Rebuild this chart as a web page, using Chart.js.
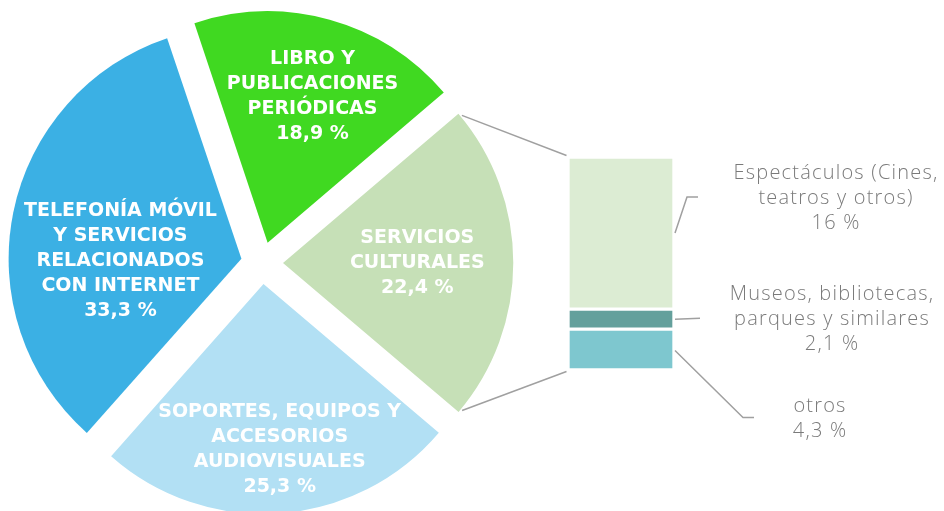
<!DOCTYPE html>
<html>
<head>
<meta charset="utf-8">
<script src="https://cdn.jsdelivr.net/npm/chart.js@4.4.0/dist/chart.umd.min.js"></script>
<style>
  html, body { margin: 0; padding: 0; background: #fff; overflow: hidden; }
  .wrap { position: relative; width: 944px; height: 511px; }
  .wrap canvas { position: absolute; left: 0; top: 0; }
</style>
</head>
<body>
<div class="wrap">
  <canvas id="pie" width="944" height="511"></canvas>
  <canvas id="detail" width="944" height="511"></canvas>
</div>
<script>
// main split (clockwise from the left slice)
const pieLabels = [
  ['TELEFONÍA MÓVIL', 'Y SERVICIOS', 'RELACIONADOS', 'CON INTERNET'],
  ['LIBRO Y', 'PUBLICACIONES', 'PERIÓDICAS'],
  ['SERVICIOS', 'CULTURALES'],
  ['SOPORTES, EQUIPOS Y', 'ACCESORIOS', 'AUDIOVISUALES']
];
const pieValues = [33.3, 18.9, 22.4, 25.3];
const pieColors = ['#3bb0e4', '#40d921', '#c6e0b7', '#b2e0f4'];

// breakdown of SERVICIOS CULTURALES (top to bottom)
const subLabels = [
  ['Espectáculos (Cines,', 'teatros y otros)'],
  ['Museos, bibliotecas,', 'parques y similares'],
  ['otros']
];
const subValues = [16, 2.1, 4.3];
const subColors = ['#dcecd3', '#64a09c', '#7ec7cf'];

const fmt = v => String(v).replace('.', ',') + ' %';

// label spots: [angle from top in degrees, distance from pie centre]
const labelSpots = [[270.8, 141.6], [16.9, 173.8], [89.9, 155.3], [174.6, 187.8]];

const pieLabelPlugin = {
  id: 'pieLabels',
  afterDatasetsDraw(chart) {
    const ctx = chart.ctx;
    const arcs = chart.getDatasetMeta(0).data;
    ctx.save();
    ctx.fillStyle = '#fff';
    ctx.font = 'bold 19px "DejaVu Sans", sans-serif';
    ctx.textAlign = 'center';
    ctx.textBaseline = 'middle';
    arcs.forEach((arc, i) => {
      const [deg, r] = labelSpots[i];
      const a = (deg - 90) * Math.PI / 180;
      const cx = arc.x + r * Math.cos(a);
      const cy = arc.y + r * Math.sin(a);
      const lines = [...pieLabels[i], fmt(pieValues[i])];
      lines.forEach((t, k) => ctx.fillText(t, cx, cy + (k - (lines.length - 1) / 2) * 25));
    });
    ctx.restore();
  }
};

const pieChart = new Chart(document.getElementById('pie'), {
  type: 'pie',
  data: {
    labels: pieLabels.map(l => l.join(' ')),
    datasets: [{
      data: pieValues,
      backgroundColor: pieColors,
      borderWidth: 0,
      offset: 84,
      hoverOffset: 0,
      rotation: 221.5,
      radius: 230,
      clip: false
    }]
  },
  options: {
    responsive: false,
    animation: false,
    events: [],
    layout: { padding: { top: 15, right: 420, left: 0, bottom: 0 } },
    plugins: { legend: { display: false }, tooltip: { enabled: false } }
  },
  plugins: [pieLabelPlugin]
});

// leader lines (relative to bar right edge / segment middle) and text placement
const subNotes = [
  { leader: [[3, 0], [15, -36], [26, -36]], textX: 836, textDy: -35 },
  { leader: [[3, 0], [28, -1]], textX: 832, textDy: 0 },
  { leader: [[3, 1], [71, 68], [82, 68]], textX: 820, textDy: 69 }
];

const detailPlugin = {
  id: 'detailNotes',
  afterDatasetsDraw(chart) {
    const ctx = chart.ctx;
    const bw = 2;
    ctx.save();
    ctx.strokeStyle = '#a0a0a0';
    ctx.lineWidth = 1.5;

    // connectors from the SERVICIOS CULTURALES slice to the bar
    const arc = pieChart.getDatasetMeta(0).data[2];
    const shift = arc.options.offset / 4;
    const mid = (arc.startAngle + arc.endAngle) / 2;
    const ox = arc.x + Math.cos(mid) * shift;
    const oy = arc.y + Math.sin(mid) * shift;
    const R = arc.outerRadius;
    const n = chart.data.datasets.length;
    const topBar = chart.getDatasetMeta(n - 1).data[0];
    const botBar = chart.getDatasetMeta(0).data[0];
    const left = topBar.x - topBar.width / 2 + bw;
    const right = topBar.x + topBar.width / 2 - bw;
    [[arc.startAngle, topBar.y + bw, -1], [arc.endAngle, botBar.base - bw, 1]].forEach(([ang, by, s]) => {
      const sx = ox + R * Math.cos(ang), sy = oy + R * Math.sin(ang);
      const ex = left - 3.5, ey = by + s * 3.5;
      const len = Math.hypot(ex - sx, ey - sy);
      ctx.beginPath();
      ctx.moveTo(sx + (ex - sx) / len * 4, sy + (ey - sy) / len * 4);
      ctx.lineTo(ex, ey);
      ctx.stroke();
    });

    // leaders and texts
    ctx.fillStyle = '#7a7a7a';
    ctx.font = '300 20px "Open Sans", sans-serif';
    ctx.letterSpacing = '1.2px';
    ctx.textAlign = 'center';
    ctx.textBaseline = 'middle';
    chart.data.datasets.forEach((ds, k) => {
      const el = chart.getDatasetMeta(k).data[0];
      const midY = (el.y + el.base) / 2;
      const note = subNotes[ds.sub];
      ctx.beginPath();
      note.leader.forEach(([dx, dy], j) => {
        if (j) ctx.lineTo(right + dx, midY + dy); else ctx.moveTo(right + dx, midY + dy);
      });
      ctx.stroke();
      const lines = [...subLabels[ds.sub], fmt(subValues[ds.sub])];
      lines.forEach((t, j) => ctx.fillText(t, note.textX, midY + note.textDy + (j - (lines.length - 1) / 2) * 25));
    });
    ctx.restore();
  }
};

new Chart(document.getElementById('detail'), {
  type: 'bar',
  data: {
    labels: ['SERVICIOS CULTURALES'],
    datasets: subLabels.map((l, i) => ({
      label: l.join(' '),
      sub: i,
      data: [subValues[i]],
      backgroundColor: subColors[i],
      borderColor: '#fff',
      borderWidth: 2,
      borderSkipped: false,
      barPercentage: 1,
      categoryPercentage: 1
    })).reverse()
  },
  options: {
    responsive: false,
    animation: false,
    events: [],
    layout: { padding: { left: 568, right: 270, top: 157, bottom: 141 } },
    scales: {
      x: { stacked: true, display: false },
      y: { stacked: true, display: false, min: 0, max: 22.4 }
    },
    plugins: { legend: { display: false }, tooltip: { enabled: false } }
  },
  plugins: [detailPlugin]
});
</script>
</body>
</html>
